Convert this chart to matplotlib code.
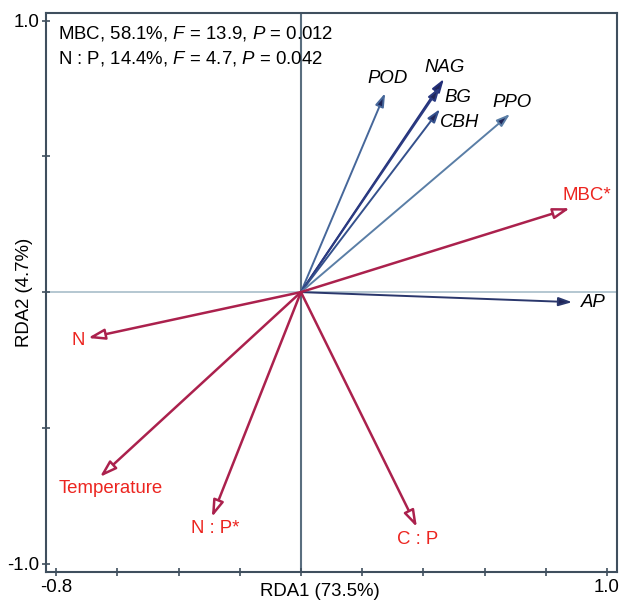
import numpy as np
import matplotlib
matplotlib.use("Agg")
import matplotlib.pyplot as plt

plt.rcParams["font.family"] = ["Liberation Sans", "DejaVu Sans"]
plt.rcParams["mathtext.fontset"] = "custom"
plt.rcParams["mathtext.rm"] = "Liberation Sans"
plt.rcParams["mathtext.it"] = "Liberation Sans:italic"

# response variables (enzymes, AP) - blue arrows
resp_names = ["POD", "NAG", "BG", "CBH", "PPO", "AP"]
resp_x = [0.275, 0.467, 0.454, 0.454, 0.683, 0.886]
resp_y = [0.733, 0.785, 0.755, 0.674, 0.656, -0.037]
resp_label_x = [0.284, 0.471, 0.513, 0.520, 0.690, 0.955]
resp_label_y = [0.788, 0.829, 0.718, 0.626, 0.700, -0.037]
resp_colors = ["#46679a", "#24307a", "#2b3b82", "#34508c", "#5a7ea6", "#2a376c"]

# explanatory variables - red arrows
expl_names = ["MBC*", "N", "Temperature", "N : P*", "C : P"]
expl_x = [0.879, -0.696, -0.657, -0.291, 0.379]
expl_y = [0.309, -0.169, -0.681, -0.829, -0.866]
expl_label_x = [0.935, -0.729, -0.621, -0.281, 0.382]
expl_label_y = [0.357, -0.177, -0.722, -0.869, -0.910]

stats_lines = ["MBC, 58.1%, $F$ = 13.9, $P$ = 0.012",
               "N : P, 14.4%, $F$ = 4.7, $P$ = 0.042"]

frame_col = "#3f4f5e"
red_line = "#ab214d"
red_text = "#ec2520"
fs = 13.4

fig = plt.figure(figsize=(6.29, 6.03), dpi=100)
ax = fig.add_axes([0.0731, 0.0514, 0.908, 0.927])
ax.set_xlim(-0.833, 1.033)
ax.set_ylim(-1.031, 1.028)

ax.axhline(0, color="#a8bdca", lw=1.2, zorder=1)
ax.axvline(0, color="#5a6e7f", lw=1.5, zorder=1)

for name, x, y, lx, ly, c in zip(resp_names, resp_x, resp_y, resp_label_x, resp_label_y, resp_colors):
    ax.annotate("", xy=(x, y), xytext=(0, 0),
                arrowprops=dict(arrowstyle="-|>,head_length=8,head_width=2.6", mutation_scale=1,
                                color=c, fc="#1f2558", ec=c, lw=1.4, shrinkA=0, shrinkB=0),
                zorder=3)
    ax.text(lx, ly, name, ha="center", va="center", fontsize=fs, style="italic", color="black")

for name, x, y, lx, ly in zip(expl_names, expl_x, expl_y, expl_label_x, expl_label_y):
    ax.annotate("", xy=(x, y), xytext=(0, 0),
                arrowprops=dict(arrowstyle="-|>,head_length=10,head_width=3.2", mutation_scale=1,
                                fc="white", ec=red_line, lw=1.8, shrinkA=0, shrinkB=0),
                zorder=4)
    ax.text(lx, ly, name, ha="center", va="center", fontsize=fs, color=red_text)

ax.text(-0.794, 0.954, stats_lines[0], ha="left", va="center", fontsize=fs)
ax.text(-0.794, 0.862, stats_lines[1], ha="left", va="center", fontsize=fs)

xt = np.round(np.arange(-0.8, 1.01, 0.2), 1)
ax.set_xticks(xt)
ax.set_xticklabels(["-0.8"] + [""] * (len(xt) - 2) + ["1.0"])
yt = [-1.0, -0.5, 0.0, 0.5, 1.0]
ax.set_yticks(yt)
ax.set_yticklabels(["-1.0", "", "", "", "1.0"])
ax.tick_params(direction="inout", length=6, width=1.2, color=frame_col, labelsize=fs, pad=2)

for s in ax.spines.values():
    s.set_color(frame_col)
    s.set_linewidth(1.5)

ax.set_xlabel("RDA1 (73.5%)", fontsize=fs)
ax.xaxis.set_label_coords(0.48, -0.034)
ax.xaxis.label.set_va("center")
ax.set_ylabel("RDA2 (4.7%)", fontsize=fs)
ax.yaxis.set_label_coords(-0.037, 0.5)
ax.yaxis.label.set_va("center")

fig.savefig("out.png", dpi=100)
